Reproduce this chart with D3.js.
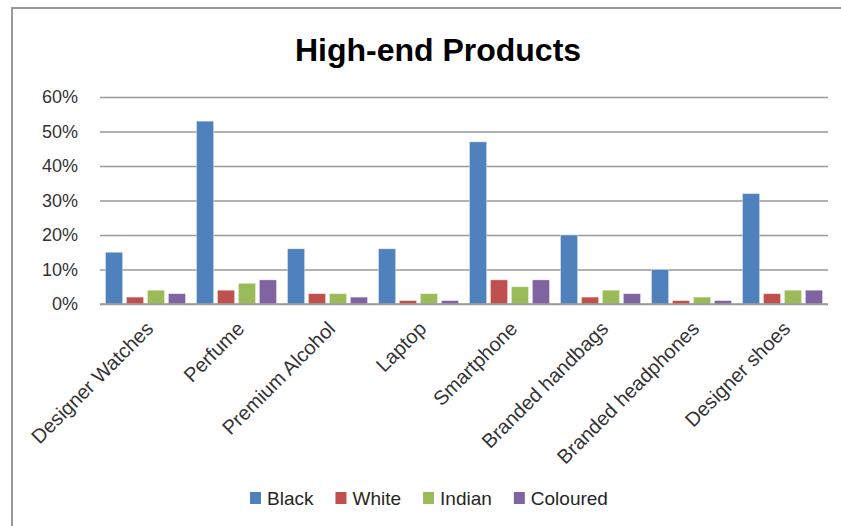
<!DOCTYPE html>
<html>
<head>
<meta charset="utf-8">
<script src="https://cdn.jsdelivr.net/npm/d3@7"></script>
<style>
  html, body { margin: 0; padding: 0; background: #fff; }
  svg { display: block; }
  text { font-family: "Liberation Sans", Arial, sans-serif; }
</style>
</head>
<body>
<svg id="chart" width="841" height="526"></svg>
<script>
// Share of respondents owning each high-end product, by population group
const categories = ["Designer Watches", "Perfume", "Premium Alcohol", "Laptop",
                    "Smartphone", "Branded handbags", "Branded headphones", "Designer shoes"];
const seriesNames = ["Black", "White", "Indian", "Coloured"];
const seriesColors = ["#4F81BD", "#C0504D", "#9BBB59", "#8064A2"];
const black    = [0.15, 0.53, 0.16, 0.16, 0.47, 0.20, 0.10, 0.32];
const white    = [0.02, 0.04, 0.03, 0.01, 0.07, 0.02, 0.01, 0.03];
const indian   = [0.04, 0.06, 0.03, 0.03, 0.05, 0.04, 0.02, 0.04];
const coloured = [0.03, 0.07, 0.02, 0.01, 0.07, 0.03, 0.01, 0.04];
const yTicks = [0, 0.1, 0.2, 0.3, 0.4, 0.5, 0.6];
const chartTitle = "High-end Products";

const seriesValues = [black, white, indian, coloured];
const rows = categories.map((c, i) => ({
  category: c,
  values: seriesNames.map((s, j) => ({ series: s, value: seriesValues[j][i], color: seriesColors[j] }))
}));

const svg = d3.select("#chart");
const W = 841, H = 526;
const plot = { left: 100, right: 828, top: 97, bottom: 304 };

// Chart area frame (top and left edges visible)
svg.append("path")
  .attr("d", `M12,${H} L12,8 L${W},8`)
  .attr("fill", "none")
  .attr("stroke", "#999")
  .attr("stroke-width", 2);

// Title
svg.append("text")
  .attr("x", 438)
  .attr("y", 61)
  .attr("text-anchor", "middle")
  .attr("font-size", 32)
  .attr("font-weight", "bold")
  .attr("fill", "#000")
  .text(chartTitle);

const x = d3.scaleBand()
  .domain(categories)
  .range([plot.left, plot.right])
  .paddingInner(0.12)
  .paddingOuter(0.06);

const xs = d3.scaleBand()
  .domain(seriesNames)
  .range([0, x.bandwidth()])
  .paddingInner(0.18);

const y = d3.scaleLinear()
  .domain([0, 0.6])
  .range([plot.bottom, plot.top]);

// Horizontal gridlines and y labels
const yAxis = d3.axisLeft(y)
  .tickValues(yTicks)
  .tickFormat(d3.format(".0%"))
  .tickSize(-(plot.right - plot.left))
  .tickPadding(22);

const gy = svg.append("g")
  .attr("transform", `translate(${plot.left},0)`)
  .call(yAxis);
gy.select(".domain").remove();
gy.selectAll(".tick line")
  .attr("stroke", "#999")
  .attr("stroke-width", 1.3);
gy.selectAll(".tick text")
  .attr("font-size", 18)
  .attr("fill", "#333")
  .attr("font-family", "Liberation Sans, Arial, sans-serif");

// Bars
const groups = svg.append("g").selectAll("g")
  .data(rows)
  .join("g")
  .attr("transform", d => `translate(${x(d.category)},0)`);

groups.selectAll("rect")
  .data(d => d.values)
  .join("rect")
  .attr("x", d => xs(d.series))
  .attr("width", xs.bandwidth())
  .attr("y", d => y(d.value))
  .attr("height", d => y(0) - y(d.value))
  .attr("fill", d => d.color)
  .attr("stroke", "#fff")
  .attr("stroke-opacity", 0.5)
  .attr("stroke-width", 0.8);

// Category axis line
svg.append("line")
  .attr("x1", plot.left).attr("x2", plot.right)
  .attr("y1", y(0)).attr("y2", y(0))
  .attr("stroke", "#999")
  .attr("stroke-width", 1.3);

// Rotated category labels
svg.append("g").selectAll("text")
  .data(categories)
  .join("text")
  .attr("transform", d => `translate(${x(d) + x.bandwidth() / 2 + 9},${plot.bottom + 26}) rotate(-45)`)
  .attr("text-anchor", "end")
  .attr("font-size", 20)
  .attr("fill", "#333")
  .text(d => d);

// Legend
const legend = svg.append("g");
const legendY = 498;
let lx = 250;
seriesNames.forEach((s, i) => {
  legend.append("rect")
    .attr("x", lx).attr("y", legendY - 6)
    .attr("width", 11).attr("height", 12)
    .attr("fill", seriesColors[i]);
  const t = legend.append("text")
    .attr("x", lx + 17).attr("y", legendY + 7)
    .attr("font-size", 19)
    .attr("fill", "#262626")
    .text(s);
  lx += 17 + t.node().getComputedTextLength() + 22;
});
</script>
</body>
</html>
